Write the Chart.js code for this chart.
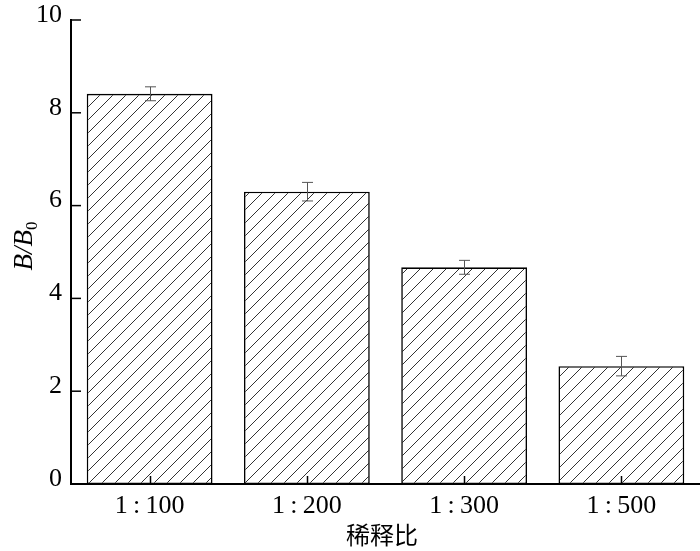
<!DOCTYPE html>
<html>
<head>
<meta charset="utf-8">
<script src="https://cdn.jsdelivr.net/npm/chart.js@4/dist/chart.umd.min.js"></script>
<style>
html,body{margin:0;padding:0;background:#fff;}
#wrap{width:700px;height:551px;position:relative;}
</style>
</head>
<body>
<div id="wrap"><canvas id="c" width="700" height="551"></canvas></div>
<script>
const categories = ['1\u2009:\u2009100', '1\u2009:\u2009200', '1\u2009:\u2009300', '1\u2009:\u2009500'];
const values = [8.41, 6.30, 4.67, 2.54];
const errors = [0.15, 0.20, 0.15, 0.21];
const yTicks = [0, 2, 4, 6, 8, 10];
const xTitle = '稀释比';

function makeHatch() {
  const s = 13;
  const c = document.createElement('canvas');
  c.width = s; c.height = s;
  const g = c.getContext('2d');
  g.fillStyle = '#fff';
  g.fillRect(0, 0, s, s);
  g.strokeStyle = '#333';
  g.lineWidth = 1;
  g.beginPath();
  g.moveTo(0, s); g.lineTo(s, 0);
  g.moveTo(-2, 2); g.lineTo(2, -2);
  g.moveTo(s - 2, s + 2); g.lineTo(s + 2, s - 2);
  g.stroke();
  return g.createPattern(c, 'repeat');
}

const serif = "'Liberation Serif', 'Times New Roman', serif";

const decor = {
  id: 'decor',
  afterDatasetsDraw(chart) {
    const {ctx, scales: {x, y}, chartArea} = chart;
    ctx.save();
    // error bars
    ctx.strokeStyle = '#555';
    ctx.lineWidth = 1;
    values.forEach((v, i) => {
      const xc = Math.round(x.getPixelForValue(i)) + 0.5;
      const t = y.getPixelForValue(v + errors[i]);
      const b = y.getPixelForValue(v - errors[i]);
      ctx.beginPath();
      ctx.moveTo(xc, t); ctx.lineTo(xc, b);
      ctx.moveTo(xc - 5.5, t); ctx.lineTo(xc + 5.5, t);
      ctx.moveTo(xc - 5.5, b); ctx.lineTo(xc + 5.5, b);
      ctx.stroke();
    });
    // inward ticks
    ctx.strokeStyle = '#000';
    ctx.lineWidth = 1.5;
    yTicks.forEach(v => {
      const py = y.getPixelForValue(v);
      ctx.beginPath();
      ctx.moveTo(chartArea.left, py); ctx.lineTo(chartArea.left + 10, py);
      ctx.stroke();
    });
    categories.forEach((c, i) => {
      const px = Math.round(x.getPixelForValue(i)) + 0.5;
      ctx.beginPath();
      ctx.moveTo(px, chartArea.bottom); ctx.lineTo(px, chartArea.bottom - 8);
      ctx.stroke();
    });
    // x title
    ctx.fillStyle = '#000';
    ctx.font = "24px 'Noto Sans CJK SC'";
    ctx.textAlign = 'center';
    ctx.textBaseline = 'middle';
    ctx.fillText(xTitle, 382, 535);
    // y title B/B0
    ctx.translate(23, 246);
    ctx.rotate(-Math.PI / 2);
    ctx.font = 'italic 27px ' + serif;
    ctx.textBaseline = 'alphabetic';
    ctx.textAlign = 'left';
    const main = 'B/B';
    const w1 = ctx.measureText(main).width;
    ctx.font = '17px ' + serif;
    const w2 = ctx.measureText('0').width;
    const total = w1 + w2;
    ctx.font = 'italic 27px ' + serif;
    ctx.fillText(main, -total / 2, 9);
    ctx.font = '17px ' + serif;
    ctx.fillText('0', -total / 2 + w1, 14);
    ctx.restore();
  }
};

new Chart(document.getElementById('c'), {
  type: 'bar',
  data: {
    labels: categories,
    datasets: [{
      data: values,
      backgroundColor: makeHatch(),
      borderColor: '#000',
      borderWidth: 1.6,
      borderSkipped: false,
      categoryPercentage: 0.8,
      barPercentage: 1.0
    }]
  },
  options: {
    responsive: false,
    animation: false,
    devicePixelRatio: 1,
    layout: {padding: {left: 0, right: 0, top: 20, bottom: 0}},
    plugins: {legend: {display: false}, tooltip: {enabled: false}},
    scales: {
      x: {
        grid: {display: false, drawTicks: false},
        border: {display: true, color: '#000', width: 2},
        ticks: {color: '#000', font: {family: serif, size: 26}, padding: 7, maxRotation: 0},
        afterFit(s) { s.height = 67; s.paddingLeft = 0; s.paddingRight = 0; }
      },
      y: {
        min: 0, max: 10,
        afterBuildTicks(s) { s.ticks = yTicks.map(v => ({value: v})); },
        grid: {display: false, drawTicks: false},
        border: {display: true, color: '#000', width: 2},
        ticks: {color: '#000', font: {family: serif, size: 26}, padding: 9, labelOffset: -5},
        afterFit(s) { s.width = 71; s.paddingTop = 0; s.paddingBottom = 0; }
      }
    }
  },
  plugins: [decor]
});
</script>
</body>
</html>
